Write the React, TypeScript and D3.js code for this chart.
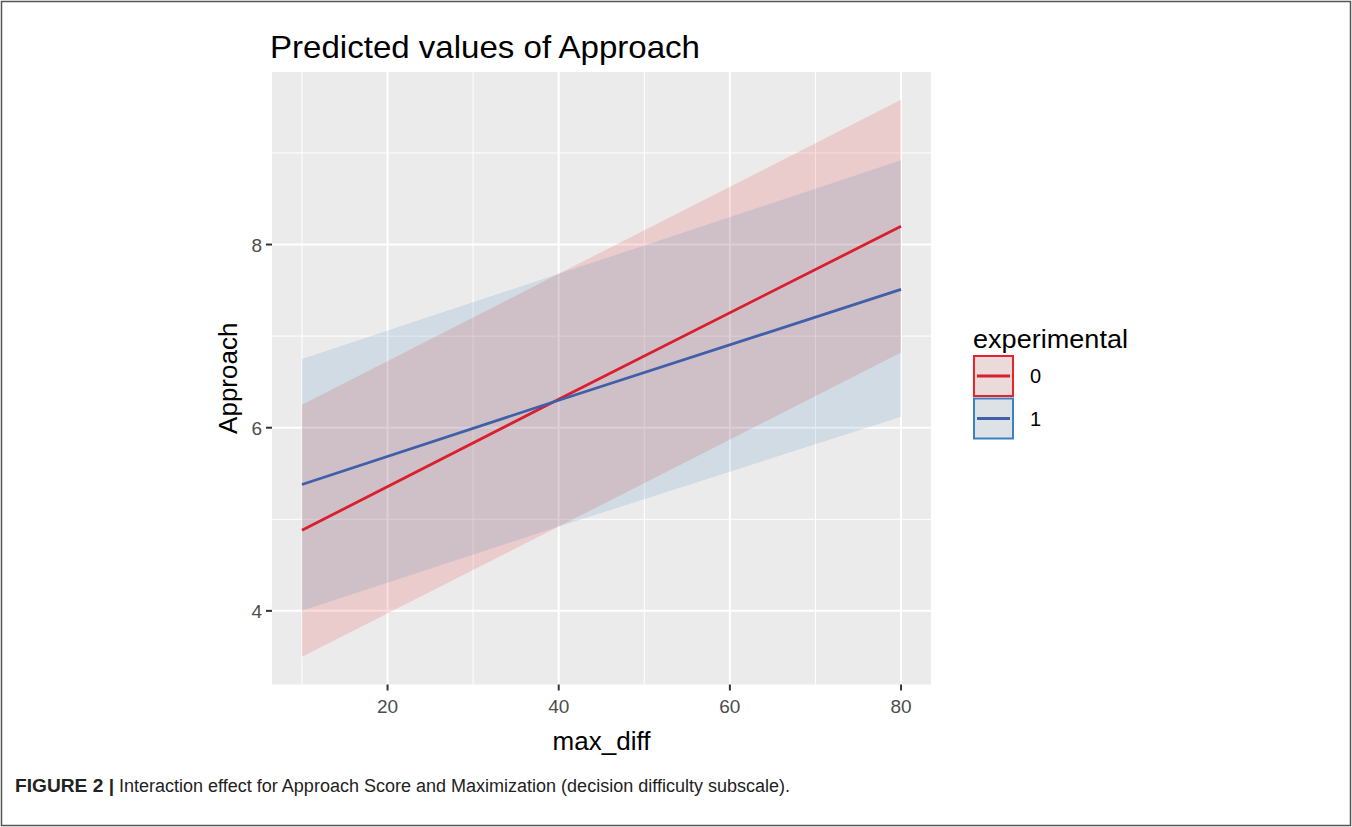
import React from 'react';
import * as d3 from 'd3';

// values (ggeffects-style predicted values)
const maxDiff = [10, 40, 80];
const fit0 = [4.88, 6.31, 8.2];
const lo0 = [3.5, 4.92, 6.82];
const hi0 = [6.25, 7.68, 9.58];
const fit1 = [5.38, 6.3, 7.51];
const lo1 = [4.0, 4.92, 6.12];
const hi1 = [6.75, 7.68, 8.92];

const groups = ['0', '1'];
const xMajor = [20, 40, 60, 80];
const xMinor = [10, 30, 50, 70];
const yMajor = [4, 6, 8];
const yMinor = [5, 7, 9];

const colors = { '0': '#d91f2e', '1': '#3f60a9' };
const ribbonColors = { '0': '#e41a1c', '1': '#377eb8' };
const legendBorder = { '0': '#e8232b', '1': '#3d80c4' };

const font = '"Liberation Sans", Arial, sans-serif';
const narrow = '"Liberation Sans Narrow", "Arial Narrow", ' + font;

const App = () => {
  const W = 1352, H = 827;
  const panel = { left: 272, right: 931, top: 72, bottom: 684.5 };

  // ggplot-style 5% expansion
  const xExt = d3.extent(maxDiff) as [number, number];
  const xPad = (xExt[1] - xExt[0]) * 0.05;
  const x = d3.scaleLinear()
    .domain([xExt[0] - xPad, xExt[1] + xPad])
    .range([panel.left, panel.right]);

  const yExt = [d3.min([...lo0, ...lo1])!, d3.max([...hi0, ...hi1])!];
  const yPad = (yExt[1] - yExt[0]) * 0.05;
  const y = d3.scaleLinear()
    .domain([yExt[0] - yPad, yExt[1] + yPad])
    .range([panel.bottom, panel.top]);

  const series = [
    { key: '0', fit: fit0, lo: lo0, hi: hi0 },
    { key: '1', fit: fit1, lo: lo1, hi: hi1 },
  ];

  const area = d3.area<number>()
    .x(i => x(maxDiff[i]));
  const line = d3.line<number>()
    .x(i => x(maxDiff[i]));
  const idx = maxDiff.map((_, i) => i);

  return (
    <svg width={W} height={H} style={{ position: 'fixed', left: 0, top: 0, background: '#fff' }}>
      <rect x={1.5} y={1.5} width={W - 3} height={H - 3} fill="none" stroke="#555" strokeWidth={1.5} />

      <text x={panel.left - 2} y={58} fontFamily={font} fontSize={32} textLength={430} lengthAdjust="spacingAndGlyphs" fill="#000">Predicted values of Approach</text>

      {/* panel */}
      <rect x={panel.left} y={panel.top} width={panel.right - panel.left} height={panel.bottom - panel.top} fill="#ebebeb" />
      {xMinor.map(v => (
        <line key={'xm' + v} x1={x(v)} x2={x(v)} y1={panel.top} y2={panel.bottom} stroke="#fff" strokeWidth={1} />
      ))}
      {yMinor.map(v => (
        <line key={'ym' + v} x1={panel.left} x2={panel.right} y1={y(v)} y2={y(v)} stroke="#fff" strokeWidth={1} />
      ))}
      {xMajor.map(v => (
        <line key={'xM' + v} x1={x(v)} x2={x(v)} y1={panel.top} y2={panel.bottom} stroke="#fff" strokeWidth={2} />
      ))}
      {yMajor.map(v => (
        <line key={'yM' + v} x1={panel.left} x2={panel.right} y1={y(v)} y2={y(v)} stroke="#fff" strokeWidth={2} />
      ))}

      {/* ribbons */}
      {series.map(s => (
        <path
          key={'r' + s.key}
          d={area.y0(i => y(s.lo[i])).y1(i => y(s.hi[i]))(idx) || ''}
          fill={ribbonColors[s.key]}
          fillOpacity={0.15}
        />
      ))}
      {series.map(s => (
        <path
          key={'l' + s.key}
          d={line.y(i => y(s.fit[i]))(idx) || ''}
          fill="none"
          stroke={colors[s.key]}
          strokeWidth={2.8}
        />
      ))}

      {/* x axis */}
      {xMajor.map(v => (
        <g key={'xt' + v}>
          <line x1={x(v)} x2={x(v)} y1={panel.bottom} y2={panel.bottom + 6} stroke="#333" strokeWidth={2} />
          <text x={x(v)} y={panel.bottom + 28} textAnchor="middle" fontFamily={font} fontSize={19} fill="#4d4d4d">{v}</text>
        </g>
      ))}
      <text x={(panel.left + panel.right) / 2} y={750} textAnchor="middle" fontFamily={font} fontSize={26} fill="#000">max_diff</text>

      {/* y axis */}
      {yMajor.map(v => (
        <g key={'yt' + v}>
          <line x1={panel.left - 6} x2={panel.left} y1={y(v)} y2={y(v)} stroke="#333" strokeWidth={2} />
          <text x={panel.left - 10} y={y(v) + 7} textAnchor="end" fontFamily={font} fontSize={19} fill="#4d4d4d">{v}</text>
        </g>
      ))}
      <text transform={`translate(237,${(panel.top + panel.bottom) / 2}) rotate(-90)`} textAnchor="middle" fontFamily={font} fontSize={26} fill="#000">Approach</text>

      {/* legend */}
      <text x={973} y={348} fontFamily={font} fontSize={25} textLength={155} lengthAdjust="spacingAndGlyphs" fill="#000">experimental</text>
      {groups.map((g, i) => {
        const top = 356 + i * 42.5;
        return (
          <g key={'lg' + g}>
            <rect x={974} y={top} width={39} height={40} fill="#ebebeb" />
            <rect x={974} y={top} width={39} height={40} fill={ribbonColors[g]} fillOpacity={0.08} stroke={legendBorder[g]} strokeWidth={2} />
            <line x1={977} x2={1010} y1={top + 20} y2={top + 20} stroke={colors[g]} strokeWidth={2.8} />
            <text x={1030} y={top + 27} fontFamily={font} fontSize={20} fill="#000">{g}</text>
          </g>
        );
      })}

      {/* caption */}
      <text x={15} y={792} fontFamily={narrow} fontSize={18} fontWeight="bold" textLength={99} lengthAdjust="spacingAndGlyphs" fill="#222">FIGURE 2 |</text>
      <text x={119} y={792} fontFamily={narrow} fontSize={18} textLength={671} lengthAdjust="spacingAndGlyphs" fill="#222">Interaction effect for Approach Score and Maximization (decision difficulty subscale).</text>
    </svg>
  );
};

export default App;
